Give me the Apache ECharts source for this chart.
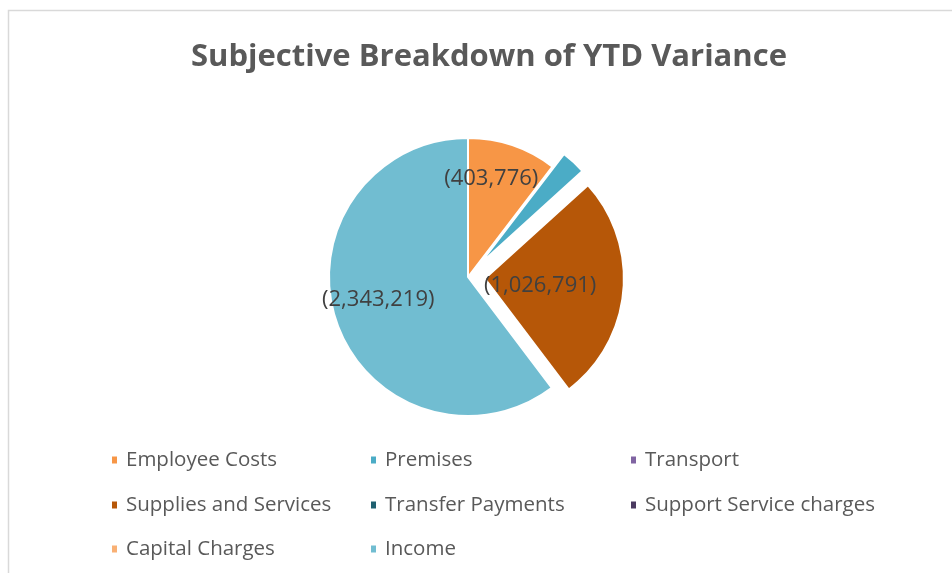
<!DOCTYPE html>
<html>
<head>
<meta charset="utf-8">
<script src="https://cdn.jsdelivr.net/npm/echarts@6/dist/echarts.min.js"></script>
<style>
  html, body { margin: 0; padding: 0; background: #fff; }
  #main { width: 952px; height: 573px; }
</style>
</head>
<body>
<div id="main"></div>
<script>
// categories and YTD variance values (negative, shown in brackets)
var categories = ["Employee Costs", "Premises", "Transport", "Supplies and Services",
  "Transfer Payments", "Support Service charges", "Capital Charges", "Income"]
var values = [403776, 112000, 0, 1026791, 0, 0, 0, 2343219]
var showLabel = [true, false, false, true, false, false, false, true]
var exploded = [false, true, false, true, false, false, false, false]
var colors = ["#F79646", "#4BACC6", "#8064A2", "#B65708", "#1F6070", "#4B3A60", "#F9B074", "#71BDD1"]

// legend grid: 3 columns, 3 rows (in excel order, row by row)
var legendColX = [105, 364, 624]
var legendRowY = [460, 505, 549]

// label nudges so they sit where excel put them
var labelOffset = [[0, -30], [0, 0], [0, 0], [0, 0], [0, 0], [0, 0], [0, 0], [0, 0]]
var labelPad = [[0, 0, 0, 0], [0, 0, 0, 0], [0, 0, 0, 0], [0, 34, 0, 0],
  [0, 0, 0, 0], [0, 0, 0, 0], [0, 0, 0, 0], [0, 42, 0, 0]]

var fmt = function (v) {
  return "(" + v.toLocaleString("en-US") + ")"
}

var chartDom = document.getElementById("main")
var myChart = echarts.init(chartDom)
var option

var pieData = categories.map(function (name, i) {
  return {
    name: name,
    value: values[i],
    selected: exploded[i],
    itemStyle: { color: colors[i] },
    label: { show: showLabel[i], offset: labelOffset[i], padding: labelPad[i] }
  }
})

var legends = categories.map(function (name, i) {
  return {
    orient: "horizontal",
    left: legendColX[i % 3],
    top: legendRowY[Math.floor(i / 3)] - 19.5,
    itemWidth: 7,
    itemHeight: 9,
    icon: "rect",
    selectedMode: false,
    data: [name],
    textStyle: { fontFamily: "Open Sans", fontSize: 20.5, lineHeight: 29, color: "#595959", padding: [0, 0, 0, 3] }
  }
})

option = {
  animation: false,
  textStyle: { fontFamily: "Open Sans" },
  graphic: [
    {
      type: "rect",
      shape: { x: 8.5, y: 10.5, width: 1000, height: 700 },
      style: { fill: "none", stroke: "#D9D9D9", lineWidth: 1.5 },
      silent: true
    }
  ],
  title: {
    text: "Subjective Breakdown of YTD Variance",
    left: 484,
    textAlign: "center",
    top: 37,
    textStyle: {
      fontFamily: "Open Sans",
      fontWeight: "bold",
      fontSize: 31,
      color: "#595959"
    }
  },
  legend: legends,
  series: [
    {
      type: "pie",
      center: [468, 277],
      radius: 139,
      startAngle: 90,
      clockwise: true,
      selectedMode: "multiple",
      selectedOffset: 17,
      avoidLabelOverlap: false,
      itemStyle: { borderColor: "#fff", borderWidth: 2 },
      emphasis: { disabled: true },
      label: {
        position: "inside",
        formatter: function (p) { return fmt(p.value) },
        fontFamily: "Open Sans",
        fontSize: 22,
        color: "#404040"
      },
      labelLine: { show: false },
      data: pieData
    }
  ]
}

option && myChart.setOption(option)
</script>
</body>
</html>
